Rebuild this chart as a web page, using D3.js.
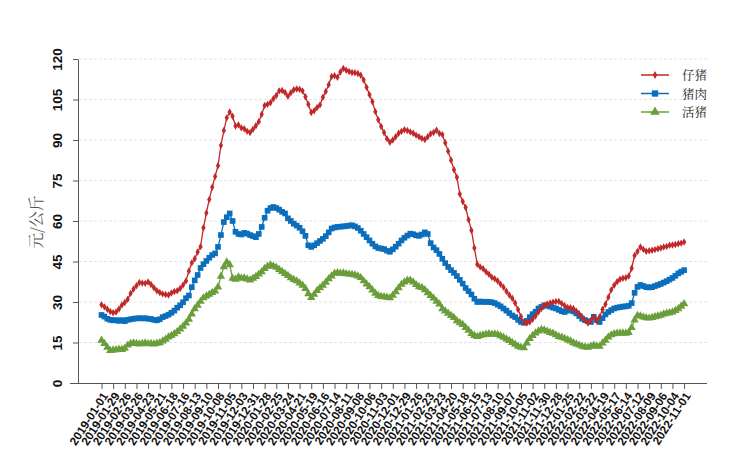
<!DOCTYPE html>
<html><head><meta charset="utf-8">
<script src="https://cdn.jsdelivr.net/npm/d3@7"></script>
<style>body{margin:0;background:#fff}svg{display:block}</style>
</head><body><svg id="c" width="746" height="460"></svg>
<script>
const startDate = "2019-01-01";
const endDate = "2022-11-01";
const seriesNames = ["仔猪", "猪肉", "活猪"];
const seriesColors = ["#C0282A", "#0A6EBD", "#6A9E3A"];
const yTicks = [0, 15, 30, 45, 60, 75, 90, 105, 120];
const xTickLabels = ["2019-01-01","2019-01-29","2019-02-26","2019-03-26","2019-04-23","2019-05-21","2019-06-18","2019-07-16","2019-08-13","2019-09-10","2019-10-08","2019-11-05","2019-12-03","2019-12-31","2020-01-28","2020-02-25","2020-03-24","2020-04-21","2020-05-19","2020-06-16","2020-07-14","2020-08-11","2020-09-08","2020-10-06","2020-11-03","2020-12-01","2020-12-29","2021-01-26","2021-02-23","2021-03-23","2021-04-20","2021-05-18","2021-06-15","2021-07-13","2021-08-10","2021-09-07","2021-10-05","2021-11-02","2021-11-30","2021-12-28","2022-01-25","2022-02-22","2022-03-22","2022-04-19","2022-05-17","2022-06-14","2022-07-12","2022-08-09","2022-09-06","2022-10-04","2022-11-01"];

const piglet = [29.0,28.2,27.3,26.5,26.0,26.3,27.4,28.9,29.8,31.0,33.2,34.8,36.0,37.2,37.0,36.9,37.4,36.5,35.3,34.2,
33.5,33.0,32.8,32.6,33.3,33.9,34.2,35.0,36.3,37.8,41.5,44.5,46.0,48.5,50.5,57.5,63.0,68.0,72.5,76.5,
80.5,88.0,93.5,98.2,100.4,98.8,95.2,95.6,94.5,94.2,93.2,92.8,94.0,95.3,96.8,99.5,102.8,103.2,103.8,105.3,
106.5,108.2,108.3,107.6,106.2,107.5,108.6,108.9,108.8,108.2,106.0,103.2,100.2,100.8,102.0,103.0,105.8,108.0,110.5,113.5,
113.8,113.2,115.2,116.5,115.8,115.4,115.0,114.9,114.6,114.0,112.2,109.5,106.8,104.2,100.5,97.5,95.0,92.8,90.5,89.2,
90.0,91.2,92.5,93.2,93.8,93.5,93.0,92.5,91.8,91.2,90.6,90.2,91.2,92.3,92.8,93.6,92.4,92.0,89.0,85.8,
82.5,79.0,76.2,70.0,67.2,65.0,60.5,56.5,50.0,44.0,43.0,42.3,41.2,40.3,39.2,38.6,37.8,36.6,35.5,34.0,
32.6,31.4,29.6,27.2,24.6,22.5,22.2,22.6,23.6,24.8,26.3,27.6,28.7,29.3,29.6,29.9,30.2,30.2,29.4,28.6,
28.0,27.9,27.6,26.6,25.6,24.5,23.2,22.2,23.2,24.5,23.0,24.5,27.2,29.2,31.8,34.5,36.2,37.5,38.4,38.8,
39.0,39.6,42.5,47.2,48.7,50.4,49.5,48.8,49.0,49.2,49.4,49.7,50.0,50.4,50.6,51.0,51.1,51.3,51.6,51.8,52.2];

const pork = [25.2,24.6,23.8,23.4,23.2,23.3,23.0,23.3,22.9,23.4,23.6,23.8,23.9,24.0,23.9,24.0,23.8,23.7,23.4,23.2,
23.6,24.4,24.8,25.3,26.0,26.8,27.9,28.8,29.9,31.4,32.4,35.5,38.0,40.0,42.6,44.0,45.2,46.4,47.4,48.0,
50.4,54.8,59.6,61.4,62.8,60.0,56.0,55.2,55.0,55.6,55.3,54.8,54.4,54.0,55.2,57.8,61.2,63.8,64.8,65.2,
64.8,64.2,63.4,62.8,61.0,60.0,59.0,58.3,57.5,56.2,54.5,51.0,50.4,51.0,51.8,52.6,53.4,54.4,55.8,57.2,
57.6,57.8,57.9,58.0,58.1,58.3,58.4,58.0,57.4,56.4,55.2,54.0,52.8,51.6,50.6,50.0,49.8,49.6,49.0,48.6,
49.5,50.5,51.6,52.8,53.8,54.6,55.3,55.1,54.7,54.5,55.0,55.8,55.2,51.8,50.2,49.2,47.8,46.0,44.4,43.0,
41.8,40.8,39.6,38.2,36.8,35.2,34.0,32.8,31.2,30.0,30.2,30.0,30.1,30.0,29.9,29.6,29.0,28.4,27.6,26.8,
25.9,25.0,24.4,23.4,22.6,22.3,23.0,24.4,25.5,26.4,27.6,28.2,28.8,28.6,28.3,27.9,27.6,27.1,26.6,26.3,
26.8,27.0,26.5,25.8,24.8,23.8,23.3,22.9,22.6,24.5,23.3,22.6,24.0,25.4,26.3,27.0,27.6,27.9,28.1,28.3,
28.4,28.6,29.6,33.4,35.6,36.3,35.9,35.5,35.4,35.5,35.9,36.3,36.7,37.2,37.7,38.3,38.9,39.7,40.6,41.2,41.8];

const livePig = [15.8,14.6,13.2,12.0,12.2,12.3,12.5,12.4,12.8,14.0,14.6,14.8,14.6,14.4,14.6,14.8,14.5,14.6,14.4,14.7,
14.9,15.5,16.2,17.0,17.6,18.2,19.0,20.0,21.0,22.2,23.6,25.5,27.5,28.8,30.2,31.5,32.2,32.8,33.5,34.0,
35.5,39.5,43.0,44.8,43.8,38.8,38.4,39.2,38.8,38.9,38.5,38.1,38.8,39.4,40.3,41.2,42.4,43.2,43.7,43.3,
42.8,42.0,41.3,40.5,39.8,38.9,38.3,37.8,37.0,36.2,35.0,33.0,31.6,32.8,34.2,35.2,36.2,37.3,38.6,39.6,
40.6,40.8,40.6,40.7,40.4,40.3,40.2,40.0,39.6,39.0,37.8,36.6,35.6,34.4,33.2,32.4,32.0,31.9,31.7,31.5,
32.5,33.8,35.2,36.5,37.4,38.0,38.0,37.4,36.4,35.6,35.3,34.5,33.4,32.4,31.4,30.2,29.2,27.5,26.6,25.8,
25.0,24.2,23.0,22.3,21.6,20.5,19.5,18.3,17.6,17.2,17.6,17.8,18.0,18.2,18.0,18.1,17.9,17.5,16.9,16.3,
15.7,15.0,14.3,13.6,13.2,13.0,14.8,16.4,17.6,18.5,19.2,19.8,19.6,19.1,18.7,18.4,17.8,17.2,16.9,16.5,
16.0,15.5,14.9,14.4,14.0,13.6,13.3,13.2,13.6,14.0,13.7,13.6,14.8,15.8,17.0,17.8,18.2,18.4,18.5,18.5,
18.4,18.7,20.5,23.3,25.0,24.8,24.4,24.1,24.0,24.2,24.5,24.8,25.1,25.5,25.8,26.0,26.3,26.8,27.5,28.4,29.3];

const parse = d3.timeParse("%Y-%m-%d");
const t0 = parse(startDate), t1 = parse(endDate);
const dates = piglet.map((_, i) => d3.timeDay.offset(t0, 7 * i));
const allSeries = [piglet, pork, livePig];

const svg = d3.select("#c");
const x = d3.scaleTime().domain([t0, t1]).range([101.5, 684.1]);
const y = d3.scaleLinear().domain([0, 120]).range([383, 59]);
const axisFont = "'Liberation Sans', Arial, sans-serif";

// grid
svg.append("g").selectAll("line").data(yTicks.filter(d => d > 0)).join("line")
  .attr("x1", 79).attr("x2", 707).attr("y1", d => y(d)).attr("y2", d => y(d))
  .attr("stroke", "#e4e4e4").attr("stroke-width", 1).attr("stroke-dasharray", "3,2");

// y axis
const ya = svg.append("g").attr("transform", "translate(78,0)")
  .call(d3.axisLeft(y).tickValues(yTicks).tickSize(5).tickSizeOuter(0));
ya.select(".domain").attr("stroke", "#555");
ya.selectAll(".tick line").attr("stroke", "#555");
ya.selectAll(".tick text").attr("x", 0).attr("y", 0).attr("dy", null)
  .attr("transform", "translate(-16,0) rotate(-90)")
  .attr("text-anchor", "middle")
  .style("font-family", axisFont).style("font-size", "13.5px").style("font-weight", "bold").attr("fill", "#111");

// x axis
const xa = svg.append("g").attr("transform", "translate(0,383)")
  .call(d3.axisBottom(x).tickValues(xTickLabels.map(parse)).tickFormat(d3.timeFormat("%Y-%m-%d")).tickSize(6).tickSizeOuter(0));
xa.select(".domain").attr("d", "M70,0.5H707").attr("stroke", "#555");
xa.selectAll(".tick line").attr("stroke", "#555");
xa.selectAll(".tick text").attr("y", 0).attr("dy", null)
  .attr("transform", "translate(4,11) rotate(-57)")
  .attr("text-anchor", "end").attr("dominant-baseline", "middle")
  .style("font-family", axisFont).style("font-size", "11.8px").style("font-weight", "bold").attr("fill", "#111");

// y label
svg.append("text").attr("transform", "translate(42,222) rotate(-90)")
  .attr("text-anchor", "middle")
  .style("font-family", "'Noto Serif CJK SC','Noto Sans CJK SC',serif").style("font-size", "16px")
  .attr("fill", "#555").text("元/公斤");

// lines & markers
const symbols = [d3.symbol().type(d3.symbolDiamond).size(16), d3.symbol().type(d3.symbolSquare).size(32), d3.symbol().type(d3.symbolTriangle).size(30)];
const line = d3.line().x((d, i) => x(dates[i])).y(d => y(d));
const order = [2, 1, 0];
order.forEach(k => {
  const s = allSeries[k];
  const g = svg.append("g");
  g.append("path").attr("d", line(s)).attr("fill", "none").attr("stroke", seriesColors[k]).attr("stroke-width", 1.3);
  g.selectAll("path.m").data(s).join("path").attr("class", "m")
    .attr("transform", (d, i) => `translate(${x(dates[i])},${y(d)})`)
    .attr("d", symbols[k]()).attr("fill", seriesColors[k]);
});

// legend
const leg = svg.append("g");
seriesNames.forEach((n, k) => {
  const yy = 75 + k * 18.5;
  leg.append("line").attr("x1", 641).attr("x2", 669).attr("y1", yy).attr("y2", yy).attr("stroke", seriesColors[k]).attr("stroke-width", 1.5);
  leg.append("path").attr("transform", `translate(655,${yy})`).attr("d", d3.symbol().type([d3.symbolDiamond, d3.symbolSquare, d3.symbolTriangle][k]).size([18, 40, 40][k])()).attr("fill", seriesColors[k]);
  leg.append("text").attr("x", 682).attr("y", yy).attr("dominant-baseline", "central")
    .style("font-family", "'Noto Serif CJK SC','Noto Sans CJK SC',serif").style("font-size", "12.5px").attr("fill", "#222").text(n);
});
</script></body></html>
